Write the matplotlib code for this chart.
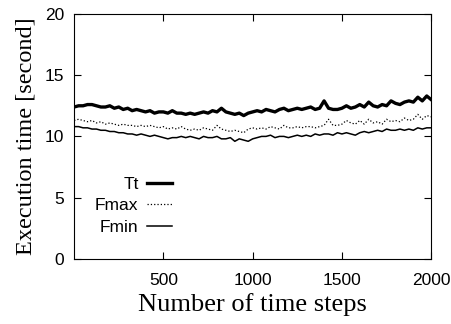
import numpy as np
import matplotlib
matplotlib.use("Agg")
import matplotlib.pyplot as plt

# time steps sampled every 25 steps
steps = np.arange(0, 2001, 25)

tt = [12.4, 12.5, 12.5, 12.6, 12.6, 12.5, 12.4, 12.4, 12.5,
      12.3, 12.4, 12.2, 12.3, 12.1, 12.2, 12.1, 12.0,
      12.1, 11.9, 12.0, 12.0, 11.9, 12.1, 11.9, 11.9,
      11.8, 11.9, 11.8, 11.9, 12.0, 11.9, 12.1, 12.0,
      12.3, 12.0, 11.9, 11.8, 11.9, 11.7, 11.9, 12.0,
      12.1, 12.0, 12.2, 12.1, 12.0, 12.2, 12.3, 12.1,
      12.2, 12.3, 12.2, 12.3, 12.4, 12.2, 12.3, 12.9,
      12.3, 12.2, 12.2, 12.3, 12.5, 12.3, 12.4, 12.6,
      12.4, 12.8, 12.5, 12.4, 12.6, 12.5, 12.9, 12.7,
      12.6, 12.8, 12.9, 12.8, 13.2, 12.9, 13.3, 13.0]

fmax = [11.3, 11.4, 11.3, 11.2, 11.3, 11.1, 11.2, 11.0, 11.1,
        11.0, 10.9, 11.0, 10.9, 10.9, 10.8, 10.9, 10.8,
        10.9, 10.8, 10.7, 10.8, 10.6, 10.7, 10.6, 10.8,
        10.6, 10.5, 10.6, 10.5, 10.7, 10.6, 10.5, 10.9,
        10.6, 10.5, 10.4, 10.5, 10.4, 10.3, 10.6, 10.7,
        10.6, 10.7, 10.6, 10.8, 10.7, 10.6, 10.9, 10.7,
        10.7, 10.8, 10.7, 10.8, 10.8, 10.7, 10.8, 10.9,
        11.4, 10.9, 10.9, 11.0, 11.3, 11.1, 11.0, 11.3,
        11.0, 11.4, 11.1, 11.2, 11.0, 11.4, 11.2, 11.3,
        11.2, 11.5, 11.3, 11.4, 11.8, 11.4, 11.7, 11.6]

fmin = [10.8, 10.8, 10.7, 10.7, 10.6, 10.6, 10.5, 10.5, 10.4,
        10.4, 10.3, 10.3, 10.2, 10.2, 10.1, 10.2, 10.1,
        10.0, 10.1, 10.0, 9.9, 9.8, 9.9, 9.9, 10.0,
        9.9, 10.0, 9.9, 9.8, 10.0, 9.9, 9.9, 10.0,
        9.8, 9.8, 9.9, 9.6, 9.8, 9.7, 9.6, 9.8,
        9.9, 10.0, 10.0, 10.1, 9.9, 10.0, 10.0, 9.9,
        10.0, 10.1, 10.0, 10.1, 10.0, 10.2, 10.1, 10.2,
        10.2, 10.1, 10.3, 10.2, 10.3, 10.2, 10.1, 10.3,
        10.4, 10.3, 10.4, 10.5, 10.4, 10.6, 10.5, 10.5,
        10.6, 10.5, 10.6, 10.5, 10.7, 10.6, 10.7, 10.7]

x_ticks = [500, 1000, 1500, 2000]
y_ticks = [0, 5, 10, 15, 20]

fig = plt.figure(figsize=(4.52, 3.24), dpi=100)
ax = fig.add_axes([0.164, 0.201, 0.79, 0.756])

ax.plot(steps, tt, color="black", lw=2.4, label="Tt")
ax.plot(steps, fmax, color="black", lw=0.9, ls=":", label="Fmax")
ax.plot(steps, fmin, color="black", lw=1.1, label="Fmin")

ax.set_xlim(0, 2000)
ax.set_ylim(0, 20)
ax.set_xticks(x_ticks)
ax.set_yticks(y_ticks)
ax.tick_params(direction="in", top=True, right=True, length=5, width=0.8,
               labelsize=12.5)
ax.tick_params(axis="x", pad=10)
ax.tick_params(axis="y", pad=7)
for lab in ax.get_xticklabels() + ax.get_yticklabels():
    lab.set_family("Liberation Sans")
for sp in ax.spines.values():
    sp.set_linewidth(0.8)

ax.set_xlabel("Number of time steps", family="Liberation Serif", fontsize=19, labelpad=4)
ax.set_ylabel("Execution time [second]", family="Liberation Serif", fontsize=17.5, labelpad=6)

ax.legend(loc="lower left", bbox_to_anchor=(0.015, 0.035), frameon=False,
          markerfirst=False, handlelength=1.4, handletextpad=0.5,
          labelspacing=0.35, prop={"family": "Liberation Sans", "size": 12.5})
leg = ax.get_legend()
for t in leg.get_texts():
    t.set_ha("right")
leg._legend_box.align = "right"

fig.savefig("out.png", dpi=100)
